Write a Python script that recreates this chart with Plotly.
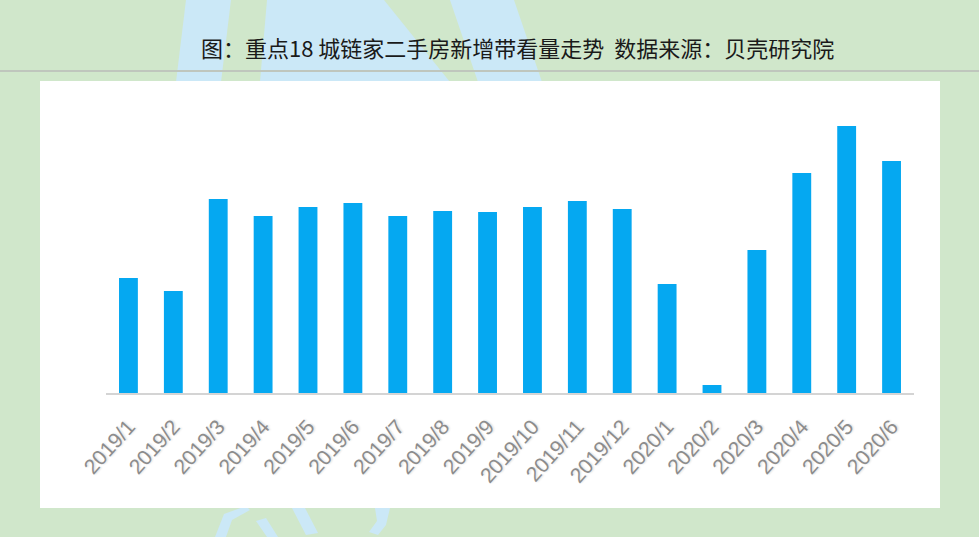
import plotly.graph_objects as go

# ---- data ----
months = ["2019/1", "2019/2", "2019/3", "2019/4", "2019/5", "2019/6", "2019/7",
          "2019/8", "2019/9", "2019/10", "2019/11", "2019/12", "2020/1", "2020/2",
          "2020/3", "2020/4", "2020/5", "2020/6"]
viewings = [115, 102, 194, 177, 186, 190, 177, 182, 181, 186, 192, 184,
            109, 8, 143, 220, 267, 232]
title_text = "图：重点18 城链家二手房新增带看量走势  数据来源：贝壳研究院"

# ---- layout geometry (pixels) ----
W, H = 979, 537
L, R, T, B = 106, 65, 82, 144
PW, PH = W - L - R, H - T - B


def px(x):
    return (x - L) / PW


def py(y):
    return (H - B - y) / PH


GREEN = "#d0e7cb"
WM = "#cbe8f7"

fig = go.Figure()
fig.add_trace(go.Bar(
    x=months, y=viewings,
    marker=dict(color="#05a8f1", line=dict(width=0)),
    width=0.42,
    hoverinfo="x+y",
))

shapes = []


def poly(pts, color=WM):
    d = "M " + " L ".join(f"{px(a):.5f},{py(b):.5f}" for a, b in pts) + " Z"
    return dict(type="path", xref="paper", yref="paper", path=d,
                fillcolor=color, line=dict(width=0), layer="below")


# watermark bands behind the panel (top)
shapes.append(poly([(186, 0), (231, 0), (221, 82), (176, 82)]))
shapes.append(poly([(267, 0), (384, 0), (450, 82), (260, 82)]))
shapes.append(poly([(450, 0), (514, 0), (542, 82), (478, 82)]))
# watermark strokes (bottom)
shapes.append(poly([(215, 537), (226, 537), (232, 520), (250, 510), (246, 506), (224, 514)]))
shapes.append(poly([(256, 521), (266, 518), (278, 537), (267, 537)]))
shapes.append(poly([(292, 508), (305, 508), (318, 533), (306, 535)]))
shapes.append(poly([(375, 508), (390, 508), (386, 525), (378, 535), (369, 532), (377, 521)]))
# white panel
shapes.append(dict(type="rect", xref="paper", yref="paper",
                   x0=px(40), x1=px(940), y0=py(508), y1=py(81),
                   fillcolor="white", line=dict(width=0), layer="below"))
# title rule
shapes.append(dict(type="line", xref="paper", yref="paper",
                   x0=px(0), x1=px(W), y0=py(71), y1=py(71),
                   line=dict(color="#bfc6bd", width=2), layer="below"))

fig.update_layout(
    width=W, height=H,
    margin=dict(l=L, r=R, t=T, b=B, pad=0),
    paper_bgcolor=GREEN,
    plot_bgcolor="rgba(0,0,0,0)",
    showlegend=False,
    bargap=0.58,
    shapes=shapes,
    annotations=[dict(
        text=title_text, xref="paper", yref="paper",
        x=px(517), y=py(47), xanchor="center", yanchor="middle",
        showarrow=False,
        font=dict(family="Noto Sans CJK SC", size=22, color="#1a1a1a"),
    )],
    xaxis=dict(
        type="category",
        range=[-0.5, len(months) - 0.5],
        showline=True, linecolor="#d4d4d4", linewidth=2,
        showgrid=False, ticks="",
        tickangle=-48,
        ticklabelstandoff=11,
        tickfont=dict(family="Liberation Sans, Arial, sans-serif", size=21,
                      color="#8c8c8c", shadow="1px 1px 2px #e0e0e0"),
    ),
    yaxis=dict(
        range=[0, PH],
        visible=False, showgrid=False, zeroline=False,
    ),
)

fig.write_html(
    "out.html",
    config={"displayModeBar": False},
    post_script="document.body.style.margin='0';document.body.style.overflow='hidden';",
)
